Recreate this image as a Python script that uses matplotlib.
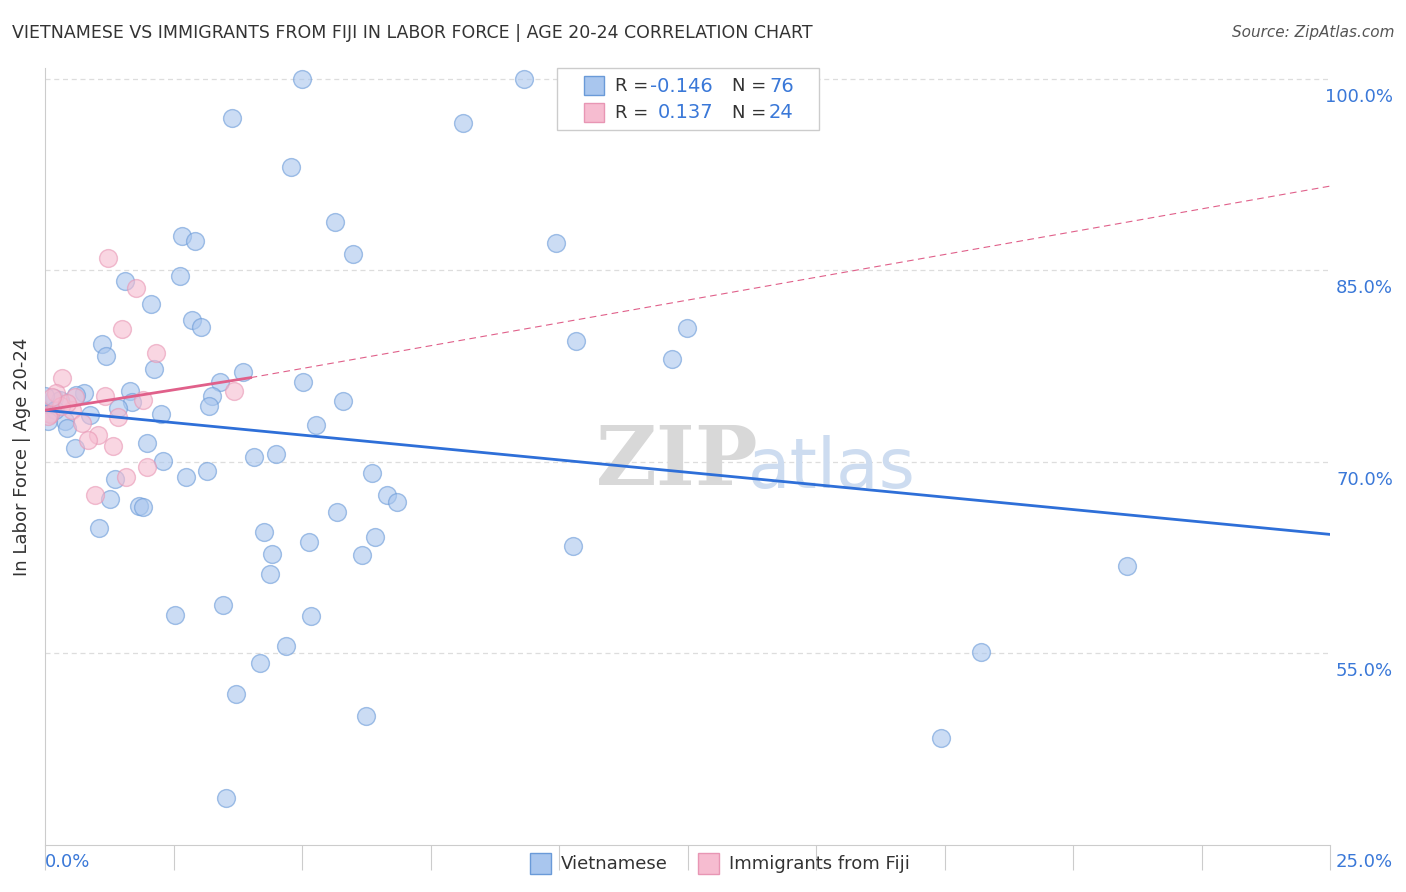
import numpy as np
import matplotlib.pyplot as plt
from matplotlib.patches import Rectangle

viet_x = [5.0, 9.32, 3.64, 8.13, 4.79, 5.64, 2.66, 2.92, 9.94, 5.99, 1.56, 2.63, 2.06, 2.86,
          3.04, 12.49, 10.33, 1.11, 1.19, 12.2, 2.12, 3.85, 3.4, 5.02, 1.65, 0.76, 0.6, 0.18,
          0.29, 0.0, 3.25, 5.8, 1.69, 3.19, 1.42, 0.88, 2.26, 0.1, 0.39, 0.43, 5.27, 1.98, 0.58,
          4.49, 4.07, 2.3, 3.15, 2.74, 6.36, 1.36, 6.65, 1.26, 6.85, 1.83, 1.91, 5.68, 1.05,
          4.26, 6.42, 5.14, 10.27, 4.42, 6.17, 4.38, 21.05, 2.53, 3.46, 5.18, 18.21, 4.69,
          4.18, 3.72, 6.25, 17.43, 3.52, 0.19, 0.06]
viet_y = [100.0, 100.0, 96.95, 96.55, 93.11, 88.8, 87.7, 87.31, 87.16, 86.3, 84.19, 84.58,
          82.38, 81.13, 80.58, 80.5, 79.48, 79.25, 78.31, 78.07, 77.29, 77.06, 76.27, 76.27,
          75.57, 75.41, 75.25, 75.02, 74.86, 75.18, 75.18, 74.78, 74.71, 74.4, 74.24, 73.69,
          73.77, 73.81, 73.18, 72.63, 72.87, 71.46, 71.07, 70.6, 70.36, 70.05, 69.26, 68.79,
          69.1, 68.64, 67.38, 67.07, 66.83, 66.52, 66.44, 66.05, 64.8, 64.49, 64.1, 63.7,
          63.39, 62.76, 62.69, 61.2, 61.82, 58.03, 58.81, 57.95, 55.13, 55.59, 54.26, 51.84,
          50.12, 48.36, 43.69, 74.1, 73.18]
fiji_x = [1.23, 1.77, 1.5, 2.16, 0.33, 0.21, 1.17, 3.68, 1.91, 0.53, 1.42, 0.72, 1.03,
          0.84, 1.32, 0.1, 1.98, 1.58, 0.97, 0.31, 0.06, 0.58, 0.43, 0.14]
fiji_y = [85.98, 83.63, 80.42, 78.54, 76.58, 75.41, 75.18, 75.57, 74.86, 74.08, 73.53,
          73.06, 72.12, 71.73, 71.26, 73.77, 69.57, 68.79, 67.38, 74.4, 73.61, 75.1, 74.63, 75.1]

blue, pink = '#a9c6ee', '#f6bcd0'
fig = plt.figure(figsize=(14.06, 8.92), dpi=100)
ax = fig.add_axes([45/1406, 1-845/892, 1285/1406, 777/892])
ax.set_xlim(0, 25)
ax.set_ylim(40, 100.85)
for yv in [55, 70, 85, 100]:
    ax.axhline(yv, color='#dddddd', ls=(0, (4, 3)), lw=0.9, zorder=0)
ax.scatter(viet_x, viet_y, s=165, facecolor=blue, alpha=0.6, edgecolor='#6a9ad8', lw=1, zorder=3)
ax.scatter(fiji_x, fiji_y, s=165, facecolor=pink, alpha=0.6, edgecolor='#e896b4', lw=1, zorder=3)

xs = np.array([0, 25])
ax.plot(xs, 74.05 - 0.389 * xs, color='#2e6fd8', lw=2, zorder=4)
ax.plot([0, 4.0], [74.05, 76.6], color='#e0608a', lw=2, zorder=4)
ax.plot([4.0, 25], [76.6, 91.6], color='#e0608a', lw=0.8, ls=(0, (6, 4)), zorder=4)

for s in ['top', 'right']:
    ax.spines[s].set_visible(False)
ax.spines['left'].set_color('#cccccc')
ax.spines['bottom'].set_color('#cccccc')
ax.set_xticks(np.arange(0, 25.1, 2.5))
ax.set_xticklabels([])
ax.tick_params(axis='x', length=18, color='#cccccc')
ax.set_yticks([])
for yv in [55, 70, 85, 100]:
    ax.text(1393/1406, ax.transData.transform((0, yv - 1.4))[1] / 892, f'{yv:.1f}%',
            transform=fig.transFigure, ha='right', va='center', color='#3a78d8', fontsize=13)
fig.text(45/1406, 1-862/892, '0.0%', color='#3a78d8', fontsize=13, ha='left', va='center')
fig.text(1393/1406, 1-862/892, '25.0%', color='#3a78d8', fontsize=13, ha='right', va='center')
ax.set_ylabel('In Labor Force | Age 20-24', fontsize=13, color='#333333', labelpad=10)

ax.text(12.3, 70, 'ZIP', fontsize=60, color='#d8d8d8', ha='center', va='center', fontweight='bold',
        zorder=1, family='DejaVu Serif')
ax.text(15.3, 69.5, 'atlas', fontsize=50, color='#cddcf0', ha='center', va='center', zorder=1)

fig.text(12/1406, 1-33/892, 'VIETNAMESE VS IMMIGRANTS FROM FIJI IN LABOR FORCE | AGE 20-24 CORRELATION CHART',
         fontsize=12.5, color='#333333', va='center')
fig.text(1394/1406, 1-33/892, 'Source: ZipAtlas.com', fontsize=11, color='#555555', va='center',
         ha='right', style='italic')

# top legend
fig.patches.append(Rectangle((557/1406, 1-130/892), 262/1406, 62/892, transform=fig.transFigure,
                             fc='white', ec='#cccccc', lw=1))
for i, (c, ec, r, n) in enumerate([(blue, '#6a9ad8', '-0.146', '76'), (pink, '#e896b4', '0.137', '24')]):
    yy = 1 - (86 + 27 * i) / 892
    fig.patches.append(Rectangle((584/1406, yy - 9/892), 20/1406, 19/892, transform=fig.transFigure,
                                 fc=c, ec=ec))
    fig.text(615/1406, yy, 'R =', fontsize=13, color='#333333', va='center')
    fig.text(713/1406, yy, r, fontsize=14, color='#3a78d8', va='center', ha='right')
    fig.text(732/1406, yy, 'N =', fontsize=13, color='#333333', va='center')
    fig.text(769/1406, yy, n, fontsize=14, color='#3a78d8', va='center')

# bottom legend
for x0, c, ec, lab in [(530, blue, '#6a9ad8', 'Vietnamese'), (698, pink, '#e896b4', 'Immigrants from Fiji')]:
    fig.patches.append(Rectangle((x0/1406, 1-874/892), 21/1406, 21/892, transform=fig.transFigure,
                                 fc=c, ec=ec))
    fig.text((x0 + 31)/1406, 1-864/892, lab, fontsize=13, color='#333333', va='center')

fig.savefig('out.png')
